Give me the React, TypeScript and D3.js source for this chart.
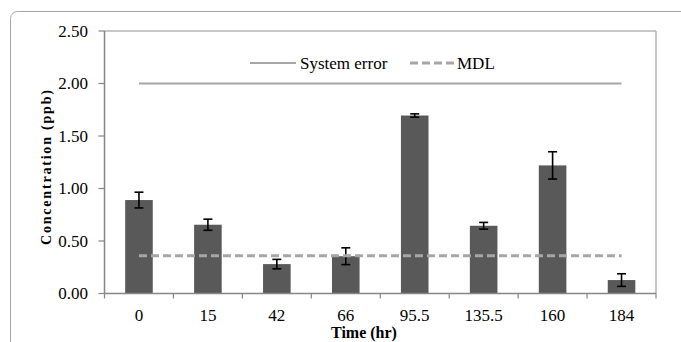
import React from "react";
import * as d3 from "d3";

const categories = ["0", "15", "42", "66", "95.5", "135.5", "160", "184"];
const concentration = [0.89, 0.655, 0.28, 0.355, 1.695, 0.645, 1.22, 0.128];
const errors = [0.075, 0.053, 0.045, 0.08, 0.016, 0.032, 0.13, 0.06];
const systemError = 2.0;
const mdl = 0.36;
const yTicks = [0, 0.5, 1.0, 1.5, 2.0, 2.5];
const legendLabels = ["System error", "MDL"];

const W = 681;
const H = 342;
const left = 104.5;
const right = 656;
const top = 31;
const bottom = 293.5;
const FONT = '"Liberation Serif", "DejaVu Serif", "Times New Roman", serif';

export default function App() {
  const x = d3.scaleBand<string>().domain(categories).range([left, right]).paddingInner(0.6).paddingOuter(0.3);
  const xb = d3.scaleBand<string>().domain(categories).range([left, right]);
  const y = d3.scaleLinear().domain([0, 2.5]).range([bottom, top]);
  const firstC = (xb("0") as number) + xb.bandwidth() / 2;
  const lastC = (xb("184") as number) + xb.bandwidth() / 2;
  const capW = 4.5;
  const boundaries = categories.map((c) => xb(c) as number).concat([right]);

  return (
    <svg width={W} height={H} style={{ position: "absolute", left: 0, top: 0, fontFamily: FONT }}>
      <rect x={0} y={0} width={W} height={H} fill="#fff" />
      <rect x={10.5} y={11.5} width={720} height={360} rx={7} fill="#fff" stroke="#a6a6a6" strokeWidth={1} />
      {/* plot area border */}
      <line x1={left} x2={right} y1={top} y2={top} stroke="#b4b4b4" strokeWidth={1.5} />
      <line x1={right} x2={right} y1={top} y2={bottom} stroke="#b4b4b4" strokeWidth={1.5} />
      {/* bars */}
      {categories.map((c, i) => (
        <rect key={c} x={x(c)} y={y(concentration[i])} width={x.bandwidth()} height={bottom - y(concentration[i])} fill="#595959" />
      ))}
      {/* error bars */}
      {categories.map((c, i) => {
        const cx = (x(c) as number) + x.bandwidth() / 2;
        const y1 = y(concentration[i] + errors[i]);
        const y2 = y(concentration[i] - errors[i]);
        return (
          <g key={c} stroke="#000" strokeWidth={1.6}>
            <line x1={cx} x2={cx} y1={y1} y2={y2} />
            <line x1={cx - capW} x2={cx + capW} y1={y1} y2={y1} />
            <line x1={cx - capW} x2={cx + capW} y1={y2} y2={y2} />
          </g>
        );
      })}
      {/* reference lines */}
      <line x1={firstC} x2={lastC} y1={y(systemError)} y2={y(systemError)} stroke="#a6a6a6" strokeWidth={2} />
      <line x1={firstC} x2={lastC} y1={y(mdl)} y2={y(mdl)} stroke="#a6a6a6" strokeWidth={3} strokeDasharray="8,4" />
      {/* y axis */}
      <line x1={left} x2={left} y1={top} y2={bottom} stroke="#868686" strokeWidth={1.5} />
      {yTicks.map((t) => (
        <g key={t}>
          <line x1={left - 6} x2={left} y1={y(t)} y2={y(t)} stroke="#868686" strokeWidth={1.2} />
          <text x={88} y={y(t)} dy="0.35em" textAnchor="end" fontSize={17} fill="#000">
            {t.toFixed(2)}
          </text>
        </g>
      ))}
      {/* x axis */}
      <line x1={left} x2={right} y1={bottom} y2={bottom} stroke="#868686" strokeWidth={1.5} />
      {boundaries.map((b, i) => (
        <line key={i} x1={b} x2={b} y1={bottom} y2={bottom + 5} stroke="#868686" strokeWidth={1.2} />
      ))}
      {categories.map((c) => (
        <text key={c} x={(xb(c) as number) + xb.bandwidth() / 2} y={321} textAnchor="middle" fontSize={17} fill="#000">
          {c}
        </text>
      ))}
      <text x={364} y={338} textAnchor="middle" fontSize={16} fontWeight="bold" fill="#000">
        Time (hr)
      </text>
      <text
        transform="translate(51,167.5) rotate(-90)"
        textAnchor="middle"
        fontSize={14}
        fontWeight="bold"
        fill="#000"
        textLength={155}
        lengthAdjust="spacing"
      >
        Concentration (ppb)
      </text>
      {/* legend */}
      <line x1={250} x2={296} y1={63} y2={63} stroke="#a6a6a6" strokeWidth={2} />
      <text x={300} y={63} dy="0.35em" fontSize={17} fill="#000">
        {legendLabels[0]}
      </text>
      <line x1={410} x2={455} y1={63} y2={63} stroke="#a6a6a6" strokeWidth={3} strokeDasharray="8,4" />
      <text x={457} y={63} dy="0.35em" fontSize={17} fill="#000">
        {legendLabels[1]}
      </text>
    </svg>
  );
}
